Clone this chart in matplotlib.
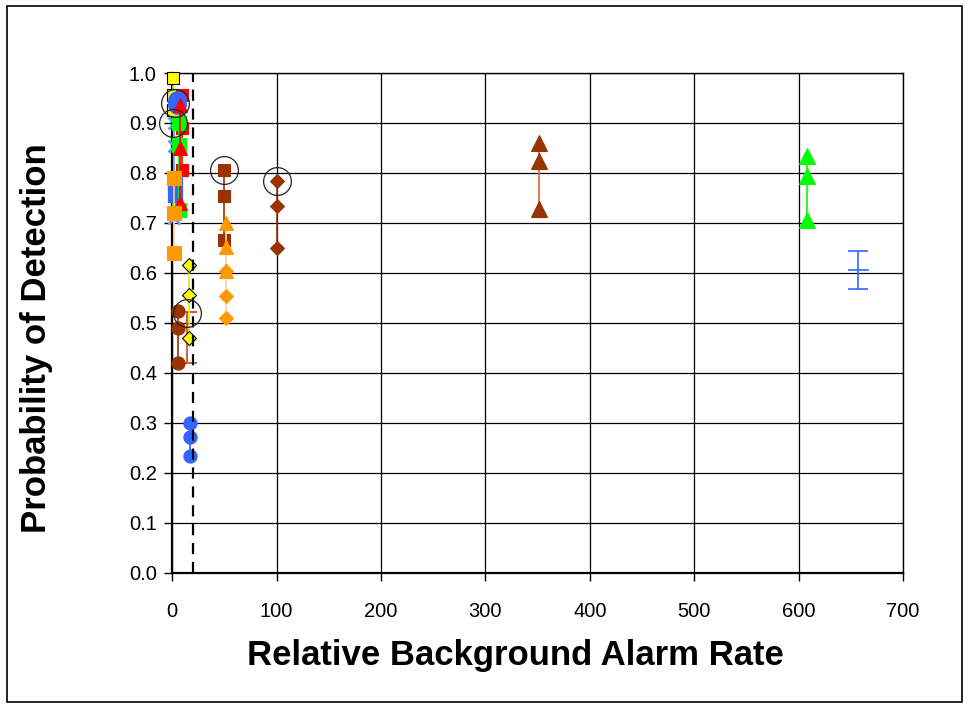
import matplotlib
matplotlib.use("Agg")
import matplotlib.pyplot as plt
from matplotlib.patches import Rectangle

plt.rcParams['font.family'] = ['Liberation Sans', 'DejaVu Sans']

# ---- data (x = relative background alarm rate, y = probability of detection) ----
yellow_sq_x = 1;    yellow_sq_y = [0.99, 0.955, 0.925]
blue_sq_x = 3;      blue_sq_y = [0.78, 0.765, 0.755]
blue_x_x = 2;       blue_x_y = [0.90, 0.853, 0.71]
green_sq_x = 7;     green_sq_y = [0.90, 0.855, 0.725]
red_sq_x = 9;       red_sq_y = [0.955, 0.89, 0.805]
blue_ci_x = 5;      blue_ci_y = [0.945, 0.94, 0.935]
red_tri_x = 8;      red_tri_y = [0.935, 0.85, 0.74]
orange_sq_x = 2;    orange_sq_y = [0.79, 0.72, 0.64]
yellow_di_x = 16;   yellow_di_y = [0.615, 0.555, 0.47]
brown_ci_x = 6;     brown_ci_y = [0.523, 0.49, 0.42]
blue_ci2_x = 17;    blue_ci2_y = [0.30, 0.272, 0.233]
brown_sq_x = 50;    brown_sq_y = [0.806, 0.753, 0.665]
orange_tri_x = 52;  orange_tri_y = [0.70, 0.652, 0.603]
orange_di_x = 52;   orange_di_y = [0.603, 0.553, 0.51]
brown_di_x = 100;   brown_di_y = [0.783, 0.733, 0.65]
brown_tri_x = 351;  brown_tri_y = [0.86, 0.823, 0.727]
green_tri_x = 608;  green_tri_y = [0.833, 0.793, 0.706]

# error bars: (x, centre, half-width)
err_brown = (14, 0.47, 0.051)
err_blue = (657, 0.605, 0.038)

# highlighted (circled) points
circ_x = [3, 1, 50, 100, 14]
circ_y = [0.94, 0.90, 0.806, 0.783, 0.52]

threshold_x = 20

x_ticks = [0, 100, 200, 300, 400, 500, 600, 700]
y_ticks = [0.0, 0.1, 0.2, 0.3, 0.4, 0.5, 0.6, 0.7, 0.8, 0.9, 1.0]

# ---- figure ----
W, H = 967, 706
fig = plt.figure(figsize=(W / 100, H / 100), dpi=100)
fig.patches.append(Rectangle((0.007, 0.006), 0.988, 0.985, transform=fig.transFigure,
                             fill=False, edgecolor='black', linewidth=1.2))
ax = fig.add_axes([0.178, 0.1884, 0.756, 0.7082])

BROWN = '#993300'
ORANGE = '#FF9900'
BLUE = '#3366FF'
LBLUE = '#6699FF'
GREEN = '#00FF00'
RED = '#FF0000'
YELLOW = '#FFFF00'

def series(x, ys, marker, mc, lc=None, ms=8.5, mec=None, mew=0.8, z=3):
    xs = [x] * len(ys)
    ax.plot(xs, ys, color=lc or mc, linewidth=1.2, zorder=z, clip_on=False)
    ax.plot(xs, ys, linestyle='none', marker=marker, markersize=ms,
            markerfacecolor=mc, markeredgecolor=mec or mc, markeredgewidth=mew,
            zorder=z + 0.1, clip_on=False)

series(yellow_sq_x, yellow_sq_y, 's', YELLOW, lc='#E6C200', ms=8.5, mec='black', z=3)
series(blue_sq_x, blue_sq_y, 's', BLUE, ms=10.5, z=3.2)
series(blue_x_x, blue_x_y, 'x', LBLUE, ms=8.5, mew=2, z=3.3)
series(green_sq_x, green_sq_y, 's', GREEN, ms=10, z=3.4)
series(red_sq_x, red_sq_y, 's', RED, ms=9, z=3.0)
series(blue_ci_x, blue_ci_y, 'o', BLUE, ms=12.5, z=3.5)
series(red_tri_x, red_tri_y, '^', RED, ms=9.5, z=3.6)
series(orange_sq_x, orange_sq_y, 's', ORANGE, lc='#FFCC99', ms=9.5, z=3.7)
series(yellow_di_x, yellow_di_y, 'D', YELLOW, lc='#E6E600', ms=7.5, mec='black', z=3)
series(brown_ci_x, brown_ci_y, 'o', BROWN, ms=9.5, z=3)
series(blue_ci2_x, blue_ci2_y, 'o', BLUE, ms=9.5, z=3)
series(brown_sq_x, brown_sq_y, 's', BROWN, ms=9, z=3)
series(orange_tri_x, orange_tri_y, '^', ORANGE, lc='#FFCC99', ms=10, z=3.1)
series(orange_di_x, orange_di_y, 'D', ORANGE, lc='#FFCC99', ms=7.5, z=3.2)
series(brown_di_x, brown_di_y, 'D', BROWN, ms=7.5, z=3)
series(brown_tri_x, brown_tri_y, '^', BROWN, lc='#CC6633', ms=11, z=3)
series(green_tri_x, green_tri_y, '^', GREEN, ms=11, z=3)

ax.errorbar([err_brown[0]], [err_brown[1]], yerr=[err_brown[2]], fmt='none',
            ecolor='#CC5522', elinewidth=1.3, capsize=7, capthick=1.3, zorder=2.9)
ax.errorbar([err_blue[0]], [err_blue[1]], yerr=[err_blue[2]], fmt='none',
            ecolor=BLUE, elinewidth=1.2, capsize=7, capthick=1.2, zorder=3)
ax.plot([err_blue[0] - 9, err_blue[0] + 9], [err_blue[1]] * 2, color=BLUE, linewidth=1.2, zorder=3)

ax.plot(circ_x, circ_y, linestyle='none', marker='o', markersize=20,
        markerfacecolor='none', markeredgecolor='#222222', markeredgewidth=0.9,
        zorder=5, clip_on=False)

ax.axvline(threshold_x, color='black', linestyle=(0, (5, 3.5)), linewidth=1.6, zorder=4)

ax.set_xlim(0, 700)
ax.set_ylim(0, 1.0)
ax.set_xticks(x_ticks)
ax.set_yticks(y_ticks)
ax.set_xticklabels([str(v) for v in x_ticks])
ax.set_yticklabels([f"{v:.1f}" for v in y_ticks])
ax.grid(True, color='black', linewidth=0.9, zorder=0)
ax.set_axisbelow(True)
for s in ax.spines.values():
    s.set_color('black')
    s.set_linewidth(1.0)
ax.spines['bottom'].set_linewidth(1.6)
ax.spines['left'].set_linewidth(1.6)
ax.tick_params(axis='x', direction='out', length=6, width=1, pad=15, labelsize=14.5)
ax.tick_params(axis='y', direction='out', length=6, width=1, pad=5, labelsize=14.5)

fig.text(515 / W, 1 - 656 / H, 'Relative Background Alarm Rate', fontsize=25,
         fontweight='bold', ha='center', va='center')
fig.text(37 / W, 1 - 338 / H, 'Probability of Detection', fontsize=25,
         fontweight='bold', ha='center', va='center', rotation=90)

fig.savefig('out.png', dpi=100)
